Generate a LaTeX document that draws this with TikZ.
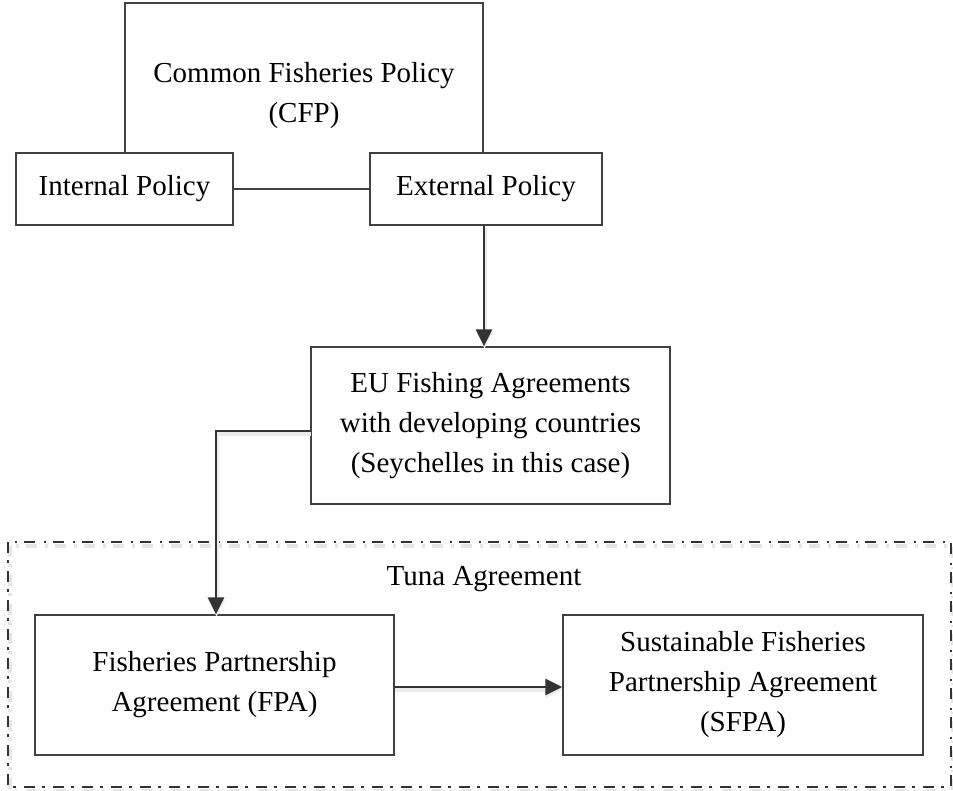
\documentclass[tikz,border=0pt]{standalone}
\usepackage{fontspec}
\setmainfont{Liberation Serif}
\usetikzlibrary{arrows.meta}

\tikzset{
  box/.style={draw=black!75, line width=1.4pt, fill=white, inner sep=0pt,
              align=center, font=\fontsize{29}{40}\selectfont},
  flow/.style={draw=black!80, line width=2.8pt,
               -{Triangle[length=17pt,width=16pt]},
               preaction={draw=black!8, line width=4pt,
                          transform canvas={shift={(0.5pt,-2.5pt)}}}},
  plain/.style={draw=black!75, line width=1.4pt},
  groupframe/.style={draw=black!80, line width=2.6pt,
                     dash pattern=on 11pt off 7pt on 2.5pt off 8.5pt},
  groupshadow/.style={draw=black!10, line width=4pt,
                     dash pattern=on 11pt off 7pt on 2.5pt off 8.5pt},
  caption/.style={font=\fontsize{29}{40}\selectfont, inner sep=0pt}
}

\begin{document}
\begin{tikzpicture}[x=1pt, y=-1pt]
  \useasboundingbox (0,0) rectangle (953,791);

  % Tuna Agreement group frame (with a faint offset shadow)
  \draw[groupshadow] (9.5,546) rectangle (952.5,791);
  \draw[groupframe] (8,542) rectangle (951,787);
  \node[caption, anchor=base] (tuna) at (484,585) {Tuna Agreement};

  % Common Fisheries Policy and its two branches
  \node[box, minimum width=358pt, minimum height=186pt] (cfp) at (304,96)
       {Common Fisheries Policy\\(CFP)};
  \node[box, minimum width=217pt, minimum height=72pt] (int) at (124.5,189)
       {Internal Policy};
  \node[box, minimum width=232pt, minimum height=72pt] (ext) at (486,189)
       {External Policy};
  \draw[plain] (int) -- (ext);

  % Fishing agreements
  \node[box, minimum width=359pt, minimum height=157pt] (eu) at (490.5,425.5)
       {EU Fishing Agreements\\with developing countries\\(Seychelles in this case)};
  \draw[flow] ([xshift=-2pt]ext.south) -- ([xshift=-2pt]ext.south |- eu.north);

  % Partnership agreements
  \node[box, minimum width=359pt, minimum height=140pt] (fpa) at (214.5,685)
       {Fisheries Partnership\\Agreement (FPA)};
  \node[box, minimum width=360pt, minimum height=140pt] (sfpa) at (743,685)
       {Sustainable Fisheries\\Partnership Agreement\\(SFPA)};

  \draw[flow] ([yshift=-5.5pt]eu.west) -| ([xshift=1.5pt]fpa.north);
  \draw[flow] ([yshift=-2pt]fpa.east) -- ([yshift=-2pt]sfpa.west);
\end{tikzpicture}
\end{document}
